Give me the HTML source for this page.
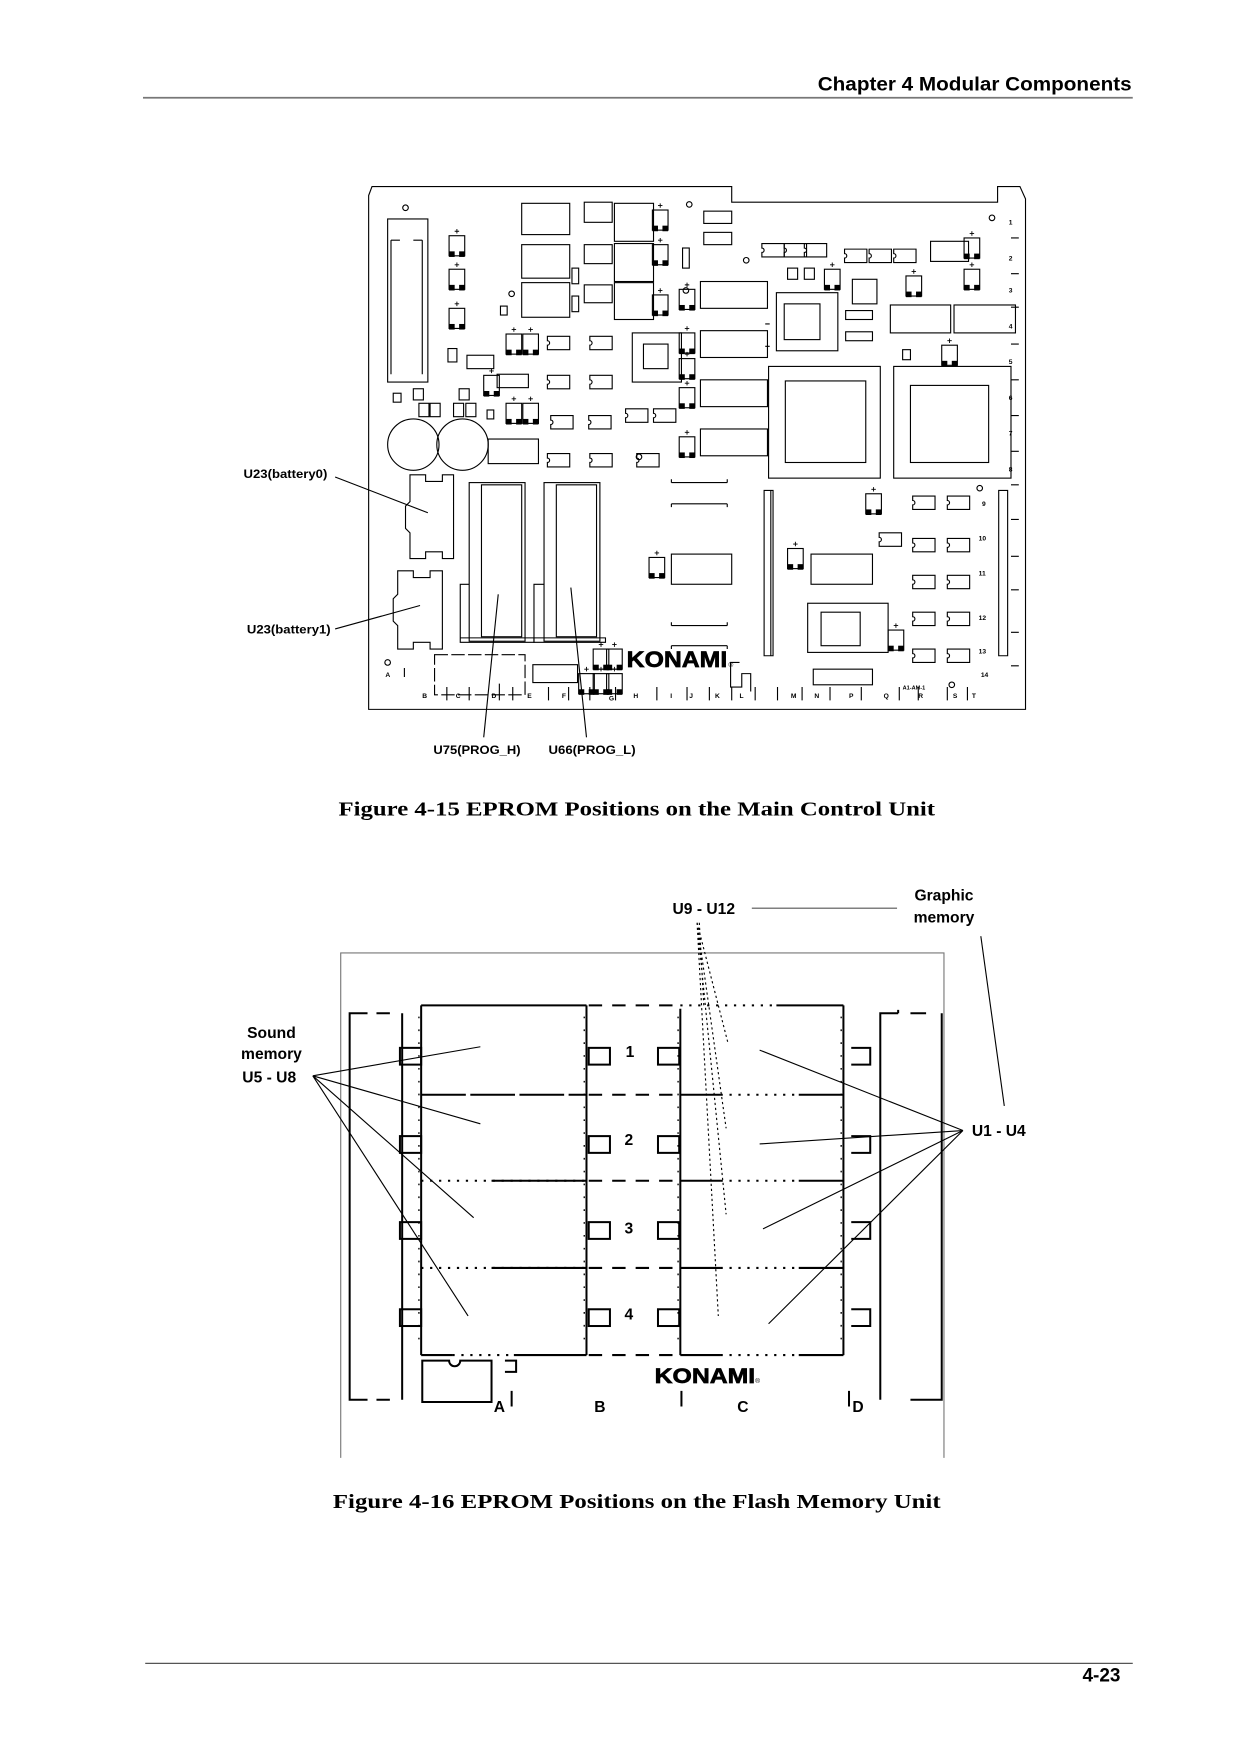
<!DOCTYPE html>
<html><head><meta charset="utf-8"><style>
html,body{margin:0;padding:0;background:#fff;}
svg{display:block;}
.s{font-family:"Liberation Sans",sans-serif;font-weight:bold;}
.r{font-family:"Liberation Serif",serif;font-weight:bold;}
</style></head><body>
<svg width="1240" height="1755" viewBox="0 0 1110 1571" xmlns="http://www.w3.org/2000/svg">
<defs>
<g id="tr"><rect x="-7" y="-9" width="14" height="18" fill="none" stroke="#000" stroke-width="1"/><rect x="-7" y="5" width="5" height="5" fill="#000"/><rect x="2" y="5" width="5" height="5" fill="#000"/><path d="M0 -15v4M-2 -13h4" stroke="#000" stroke-width="0.8"/></g>
<g id="cp"><path d="M-10 -6h20v12h-20v-4a2 2 0 0 0 0 -4z" fill="none" stroke="#000" stroke-width="1"/></g>
</defs>
<!-- header -->
<text x="732" y="81" class="s" font-size="17.5" textLength="281" lengthAdjust="spacingAndGlyphs">Chapter 4 Modular Components</text>
<line x1="128" y1="87.5" x2="1014" y2="87.5" stroke="#777" stroke-width="1.5"/>

<!-- FIGURE 1 board -->
<g fill="none" stroke="#000" stroke-width="1">
<path d="M330 175 L333 167 L655 167 L655 181 L893 181 L893 167 L913 167 L918 178 L918 635 L330 635 Z"/>
<rect x="347" y="196" width="36" height="146"/>
<path d="M350 215v120M378 215v120M350 215h8M370 215h8"/>
<circle cx="370" cy="398" r="23"/><circle cx="414" cy="398" r="23"/>
<circle cx="363" cy="186" r="2.5"/><circle cx="617" cy="183" r="2.5"/><circle cx="888" cy="195" r="2.5"/><circle cx="458" cy="263" r="2.5"/><circle cx="668" cy="233" r="2.5"/><circle cx="572" cy="409" r="2.5"/><circle cx="877" cy="437" r="2.5"/><circle cx="347" cy="593" r="2.5"/><circle cx="852" cy="613" r="2.5"/><circle cx="614" cy="260" r="2.5"/>
<path d="M367 425h14v6h15v-6h10v75h-10v-6h-15v6h-14v-23l-4 -4v-20l4 -4z"/>
<path d="M356 511h14v6h15v-6h11v70h-11v-6h-15v6h-14v-21l-4 -4v-20l4 -4z"/>
<rect x="420" y="432" width="50" height="142"/><rect x="431" y="434" width="36" height="136"/>
<rect x="487" y="432" width="50" height="142"/><rect x="498" y="434" width="36" height="136"/>
<path d="M412 571v-48h8M412 571h66v4h-66z"/><path d="M478 571v-48h9M478 571h64v4h-64z"/>
<rect x="467" y="182" width="43" height="28"/><rect x="467" y="219" width="43" height="30"/><rect x="467" y="253" width="43" height="31"/>
<rect x="523" y="181" width="25" height="18"/><rect x="523" y="219" width="25" height="17"/><rect x="523" y="255" width="25" height="16"/>
<rect x="550" y="182" width="35" height="34"/><rect x="550" y="218" width="35" height="34"/><rect x="550" y="253" width="35" height="33"/>
<rect x="630" y="189" width="25" height="11"/><rect x="630" y="208" width="25" height="11"/>
<rect x="512" y="240" width="6" height="14"/><rect x="512" y="265" width="6" height="14"/><rect x="611" y="222" width="6" height="18"/>
<rect x="627" y="252" width="60" height="24"/><rect x="627" y="296" width="60" height="24"/><rect x="627" y="340" width="60" height="24"/><rect x="627" y="384" width="60" height="24"/>
<rect x="437" y="393" width="45" height="22"/>
<rect x="797" y="273" width="54" height="25"/><rect x="854" y="273" width="55" height="25"/><rect x="833" y="216" width="34" height="18"/>
<rect x="726" y="496" width="55" height="27"/><rect x="601" y="496" width="54" height="27"/>
<path d="M601 432h50M601 451h50M601 432v-3M651 432v-3M601 451v3M651 451v3"/>
<path d="M601 560h50M601 578h50M601 560v-3M651 560v-3M601 578v3M651 578v3"/>
<rect x="389" y="586" width="81" height="36" stroke-dasharray="12 3"/>
<rect x="477" y="595" width="40" height="16"/><rect x="728" y="599" width="53" height="14"/>
<rect x="418" y="318" width="24" height="12"/><rect x="445" y="335" width="28" height="12"/>
<rect x="757" y="278" width="24" height="8"/><rect x="757" y="297" width="24" height="8"/>
<rect x="763" y="250" width="22" height="22"/><rect x="705" y="240" width="9" height="10"/><rect x="720" y="240" width="9" height="10"/>
<rect x="370" y="348" width="9" height="10"/><rect x="375" y="361" width="9" height="12"/><rect x="385" y="361" width="9" height="12"/><rect x="411" y="348" width="9" height="10"/><rect x="406" y="361" width="9" height="12"/><rect x="417" y="361" width="9" height="12"/>
<rect x="401" y="312" width="8" height="12"/><rect x="352" y="352" width="7" height="8"/><rect x="436" y="367" width="6" height="8"/><rect x="448" y="274" width="6" height="8"/><rect x="808" y="313" width="7" height="9"/>
<rect x="695" y="262" width="55" height="52"/><rect x="702" y="272" width="32" height="32"/>
<rect x="566" y="298" width="44" height="44"/><rect x="576" y="308" width="22" height="22"/>
<rect x="688" y="328" width="100" height="100"/><rect x="703" y="341" width="72" height="73"/>
<rect x="800" y="328" width="105" height="100"/><rect x="815" y="345" width="70" height="69"/>
<rect x="723" y="540" width="72" height="44"/><rect x="735" y="548" width="35" height="30"/>
<path d="M684 439v148h8v-148zM690 439v148M894 439v148h8v-148z"/>
<path d="M685 310h4M685 290h4"/>
<path d="M905 213h7M905 245h7M905 275h7M905 308h7M905 340h7M905 372h7M905 404h7M905 434h7M905 465h7M905 498h7M905 528h7M905 566h7M905 596h7"/>
<path d="M362 598v8M400 615v12M420 615v12M447 612v15M459 615v12M491 615v12M509 615v12M528 615v12M551 615v12M588 615v12M615 615v12M635 615v12M655 615v12M676 615v12M696 615v12M718 615v12M743 615v12M771 615v12M805 615v12M822 615v12M848 615v12M866 615v12"/>
<path d="M662 593h-8v22h10v-12h8v16" />
</g>
<g>
<use href="#tr" x="409" y="220"/><use href="#tr" x="409" y="250"/><use href="#tr" x="409" y="285"/>
<use href="#tr" x="591" y="197"/><use href="#tr" x="591" y="228"/><use href="#tr" x="591" y="273"/>
<use href="#tr" x="615" y="307"/><use href="#tr" x="615" y="330"/><use href="#tr" x="615" y="356"/><use href="#tr" x="615" y="400"/><use href="#tr" x="615" y="268"/>
<use href="#tr" x="460" y="308"/><use href="#tr" x="475" y="308"/><use href="#tr" x="440" y="345"/><use href="#tr" x="460" y="370"/><use href="#tr" x="475" y="370"/>
<use href="#tr" x="745" y="250"/><use href="#tr" x="818" y="256"/><use href="#tr" x="870" y="222"/><use href="#tr" x="870" y="250"/><use href="#tr" x="850" y="318"/>
<use href="#tr" x="782" y="451"/><use href="#tr" x="712" y="500"/><use href="#tr" x="588" y="508"/><use href="#tr" x="802" y="573"/>
<use href="#tr" x="538" y="590"/><use href="#tr" x="550" y="590"/><use href="#tr" x="525" y="612"/><use href="#tr" x="538" y="612"/><use href="#tr" x="550" y="612"/>
<use href="#cp" x="500" y="307"/><use href="#cp" x="538" y="307"/><use href="#cp" x="500" y="342"/><use href="#cp" x="538" y="342"/><use href="#cp" x="503" y="378"/><use href="#cp" x="537" y="378"/><use href="#cp" x="570" y="372"/><use href="#cp" x="595" y="372"/><use href="#cp" x="500" y="412"/><use href="#cp" x="538" y="412"/><use href="#cp" x="580" y="412"/>
<use href="#cp" x="692" y="224"/><use href="#cp" x="712" y="224"/><use href="#cp" x="730" y="224"/><use href="#cp" x="766" y="229"/><use href="#cp" x="788" y="229"/><use href="#cp" x="810" y="229"/>
<use href="#cp" x="827" y="450"/><use href="#cp" x="858" y="450"/><use href="#cp" x="797" y="483"/><use href="#cp" x="827" y="488"/><use href="#cp" x="858" y="488"/><use href="#cp" x="827" y="521"/><use href="#cp" x="858" y="521"/><use href="#cp" x="827" y="554"/><use href="#cp" x="858" y="554"/><use href="#cp" x="827" y="587"/><use href="#cp" x="858" y="587"/>
</g>
<g class="s" font-size="6">
<text x="903" y="201">1</text><text x="903" y="233">2</text><text x="903" y="262">3</text><text x="903" y="294">4</text><text x="903" y="326">5</text><text x="903" y="358">6</text><text x="903" y="390">7</text><text x="903" y="422">8</text><text x="879" y="453">9</text><text x="876" y="484">10</text><text x="876" y="515">11</text><text x="876" y="555">12</text><text x="876" y="585">13</text><text x="878" y="606">14</text>
<text x="345" y="606">A</text><text x="378" y="625">B</text><text x="408" y="625">C</text><text x="440" y="625">D</text><text x="472" y="625">E</text><text x="503" y="625">F</text><text x="545" y="627">G</text><text x="567" y="625">H</text><text x="600" y="625">I</text><text x="617" y="625">J</text><text x="640" y="625">K</text><text x="662" y="625">L</text><text x="708" y="625">M</text><text x="729" y="625">N</text><text x="760" y="625">P</text><text x="791" y="625">Q</text><text x="822" y="625">R</text><text x="853" y="625">S</text><text x="870" y="625">T</text>
<text x="808" y="617" font-size="5">A1-AM-1</text>
</g>
<text x="561" y="597" class="s" font-size="20" textLength="90" lengthAdjust="spacingAndGlyphs" stroke="#000" stroke-width="0.6">KONAMI</text>
<text x="652" y="597" font-family="Liberation Sans" font-size="6">®</text>
<g stroke="#000" stroke-width="1">
<line x1="300" y1="427" x2="383" y2="459"/><line x1="300" y1="563" x2="376" y2="542"/>
<line x1="433" y1="660" x2="446" y2="532"/><line x1="525" y1="660" x2="511" y2="526"/>
</g>
<g class="s" font-size="10.5">
<text x="218" y="428" textLength="75" lengthAdjust="spacingAndGlyphs">U23(battery0)</text><text x="221" y="567" textLength="75" lengthAdjust="spacingAndGlyphs">U23(battery1)</text>
<text x="388" y="675" textLength="78" lengthAdjust="spacingAndGlyphs">U75(PROG_H)</text><text x="491" y="675" textLength="78" lengthAdjust="spacingAndGlyphs">U66(PROG_L)</text>
</g>
<text x="303" y="730" class="r" font-size="18" textLength="534" lengthAdjust="spacingAndGlyphs">Figure 4-15 EPROM Positions on the Main Control Unit</text>

<!-- FIGURE 2 -->
<g fill="none" stroke="#000">
<path d="M305 1305V853H845V1305" stroke="#777" stroke-width="1"/>
<g stroke-width="1.8">
<path d="M329 907H313V1253H329"/><path d="M337 907h12M337 1253h12" /><path d="M360 907V1253"/>
<path d="M788 1253V907H804M843 907V1253H828M815 907h14M815 1253h13M804 907v-3"/>
<path d="M377 900H525M377 900V1213M525 900V1213"/>
<path d="M377 980H525" stroke-dasharray="40 4"/>
<path d="M377 1057H525" stroke-dasharray="2 6"/><path d="M377 1135H525" stroke-dasharray="2 6"/>
<path d="M440 1057H525M440 1135H525M377 1213H405M460 1213H525"/>
<path d="M405 1213H460" stroke-dasharray="2 6"/>
<path d="M527 900H607M527 980H607M527 1057H607M527 1135H607M527 1213H607" stroke-dasharray="12 9"/>
<path d="M609 903V1213M755 900V1213M695 900H755M609 980H645M715 980H755M609 1057H645M715 1057H755M609 1135H645M715 1135H755M609 1213H645M715 1213H755"/>
<path d="M609 900H695M645 980H715M645 1057H715M645 1135H715M645 1213H715" stroke-dasharray="2 6"/>
<rect x="358" y="938" width="19" height="15"/><rect x="358" y="1017" width="19" height="15"/><rect x="358" y="1094" width="19" height="15"/><rect x="358" y="1172" width="19" height="15"/>
<rect x="527" y="938" width="19" height="15"/><rect x="527" y="1017" width="19" height="15"/><rect x="527" y="1094" width="19" height="15"/><rect x="527" y="1172" width="19" height="15"/>
<rect x="589" y="938" width="19" height="15"/><rect x="589" y="1017" width="19" height="15"/><rect x="589" y="1094" width="19" height="15"/><rect x="589" y="1172" width="19" height="15"/>
<path d="M762 938h17v15h-17M762 1017h17v15h-17M762 1094h17v15h-17M762 1172h17v15h-17"/>
<path d="M378 1218h24a5 5 0 0 0 10 0h28v37h-62z"/><path d="M452 1218h10v10h-10"/>
<path d="M458 1245v14M610 1245v14M760 1245v14"/>
</g>
<g stroke-width="1.2">
<path d="M375 910v295M523 910v295M607 910v295M753 910v295" stroke-dasharray="1.5 10"/>
</g>
</g>
<g font-family="Liberation Sans Narrow, Liberation Sans, sans-serif" font-weight="bold" font-size="14">
<text x="560" y="946">1</text><text x="559" y="1025">2</text><text x="559" y="1104">3</text><text x="559" y="1181">4</text>
<text x="442" y="1264">A</text><text x="532" y="1264">B</text><text x="660" y="1264">C</text><text x="763" y="1264">D</text>
</g>
<text x="586" y="1238" class="s" font-size="19" textLength="90" lengthAdjust="spacingAndGlyphs" stroke="#000" stroke-width="0.6">KONAMI</text>
<text x="676" y="1238" font-family="Liberation Sans" font-size="6">®</text>
<g stroke="#000" stroke-width="1" fill="none">
<path d="M280 963L430 937M280 963L430 1006M280 963L424 1090M280 963L419 1178"/>
<path d="M862 1012L680 940M862 1012L680 1024M862 1012L683 1100M862 1012L688 1185"/>
<path d="M878 838L899 990"/>
<path d="M673 813H803" stroke="#555"/>
<path d="M624 826L652 935M624 826L650 1010M624 826L650 1087M624 826L643 1178M626 826L630 900" stroke-dasharray="2 2.5"/>
</g>
<g class="s" font-size="14">
<text x="630" y="818" text-anchor="middle">U9 - U12</text>
<text x="845" y="806" text-anchor="middle">Graphic</text><text x="845" y="826" text-anchor="middle">memory</text>
<text x="243" y="929" text-anchor="middle">Sound</text><text x="243" y="948" text-anchor="middle">memory</text><text x="241" y="969" text-anchor="middle">U5 - U8</text>
<text x="870" y="1017">U1 - U4</text>
</g>
<text x="298" y="1350" class="r" font-size="18" textLength="544" lengthAdjust="spacingAndGlyphs">Figure 4-16 EPROM Positions on the Flash Memory Unit</text>

<line x1="130" y1="1489" x2="1014" y2="1489" stroke="#555" stroke-width="1.2"/>
<text x="1003" y="1505" text-anchor="end" class="s" font-size="17">4-23</text>
</svg>
</body></html>
